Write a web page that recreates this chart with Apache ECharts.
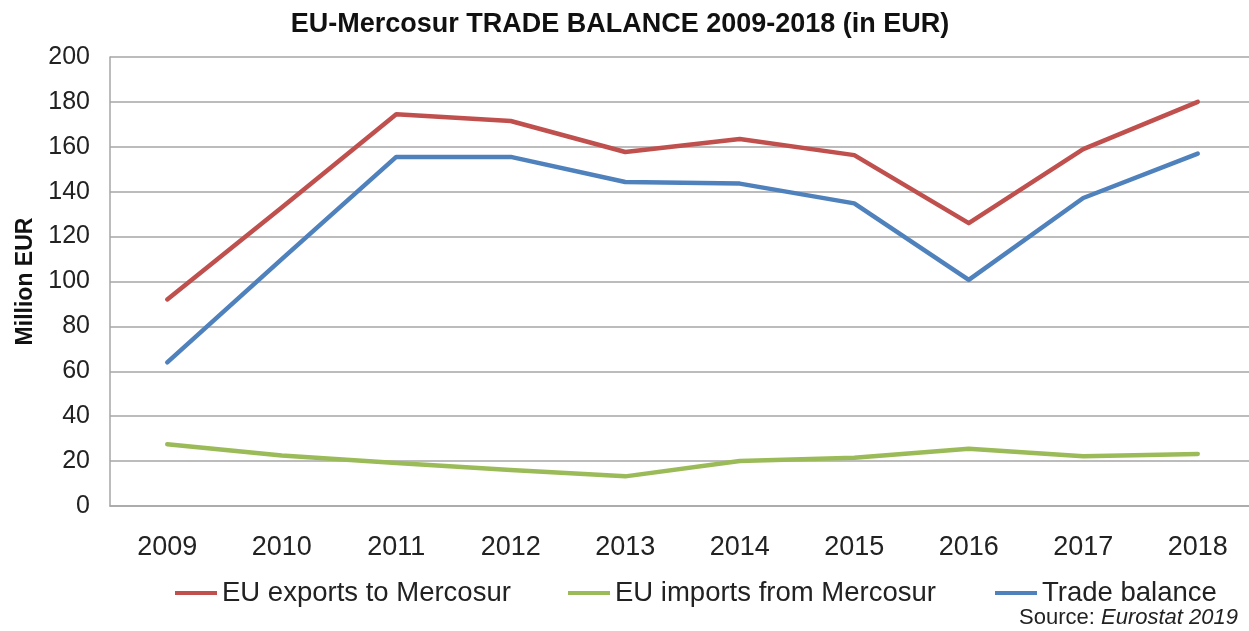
<!DOCTYPE html>
<html>
<head>
<meta charset="utf-8">
<script src="https://cdn.jsdelivr.net/npm/echarts@6/dist/echarts.min.js"></script>
<style>
html,body{margin:0;padding:0;background:#fff;overflow:hidden;}
#chart{width:1260px;height:631px;}
</style>
</head>
<body>
<div id="chart"></div>
<script>
const years = ['2009','2010','2011','2012','2013','2014','2015','2016','2017','2018'];
const exportsEU = [92, 133, 174.5, 171.5, 157.7, 163.5, 156.3, 126, 159, 180];
const importsEU = [27.5, 22.5, 19.2, 16, 13.2, 20, 21.5, 25.5, 22.2, 23.2];
const balance = [64, 110, 155.5, 155.5, 144.3, 143.6, 134.8, 100.7, 137.2, 157];
const yTicks = [0, 20, 40, 60, 80, 100, 120, 140, 160, 180, 200];
const seriesNames = ['EU exports to Mercosur', 'EU imports from Mercosur', 'Trade balance'];
const colors = ['#C0504D', '#9BBB59', '#4F81BD'];

const FONT = "'Liberation Sans', Arial, sans-serif";
const chart = echarts.init(document.getElementById('chart'));

function legendAt(i, left) {
  return {
    data: [seriesNames[i]], left: left, top: 574,
    itemWidth: 42, itemHeight: 4, itemGap: 5,
    icon: 'rect',
    textStyle: {fontFamily: FONT, fontSize: 27.5, color: '#222'}
  };
}

chart.setOption({
  animation: false,
  backgroundColor: '#fff',
  title: {
    text: 'EU-Mercosur TRADE BALANCE 2009-2018 (in EUR)',
    left: 615, top: 6, textAlign: 'center',
    textStyle: {fontFamily: FONT, fontSize: 27, fontWeight: 'bold', color: '#111'}
  },
  legend: [legendAt(0, 170), legendAt(1, 563), legendAt(2, 990)],
  grid: {left: 110, right: 5, top: 57, bottom: 125, containLabel: false},
  xAxis: {
    type: 'category', data: years, boundaryGap: true,
    axisLine: {show: true, lineStyle: {color: '#a6a6a6', width: 1.5}},
    axisTick: {show: false},
    axisLabel: {fontFamily: FONT, fontSize: 27, color: '#222', margin: 28}
  },
  yAxis: {
    type: 'value', min: 0, max: 200, interval: 20,
    name: 'Million EUR', nameLocation: 'middle', nameGap: 70, nameRotate: 90,
    nameTextStyle: {fontFamily: FONT, fontSize: 23, fontWeight: 'bold', color: '#111'},
    axisLine: {show: true, lineStyle: {color: '#a6a6a6', width: 1.5}},
    axisTick: {show: false},
    splitLine: {lineStyle: {color: '#a6a6a6', width: 1.5}},
    axisLabel: {fontFamily: FONT, fontSize: 25, color: '#222', margin: 20,
      formatter: v => yTicks.includes(v) ? String(v) : ''}
  },
  series: [exportsEU, importsEU, balance].map((d, i) => ({
    name: seriesNames[i], type: 'line', data: d,
    symbol: 'none', smooth: false,
    lineStyle: {color: colors[i], width: 4.5, cap: 'round', join: 'round'},
    itemStyle: {color: colors[i]}
  })),
  graphic: [{
    type: 'text', right: 22, top: 607,
    style: {
      text: '{n|Source: }{i|Eurostat 2019}',
      rich: {
        n: {fontFamily: FONT, fontSize: 22, fill: '#222'},
        i: {fontFamily: FONT, fontSize: 22, fontStyle: 'italic', fill: '#222'}
      }
    }
  }]
});
</script>
</body>
</html>
